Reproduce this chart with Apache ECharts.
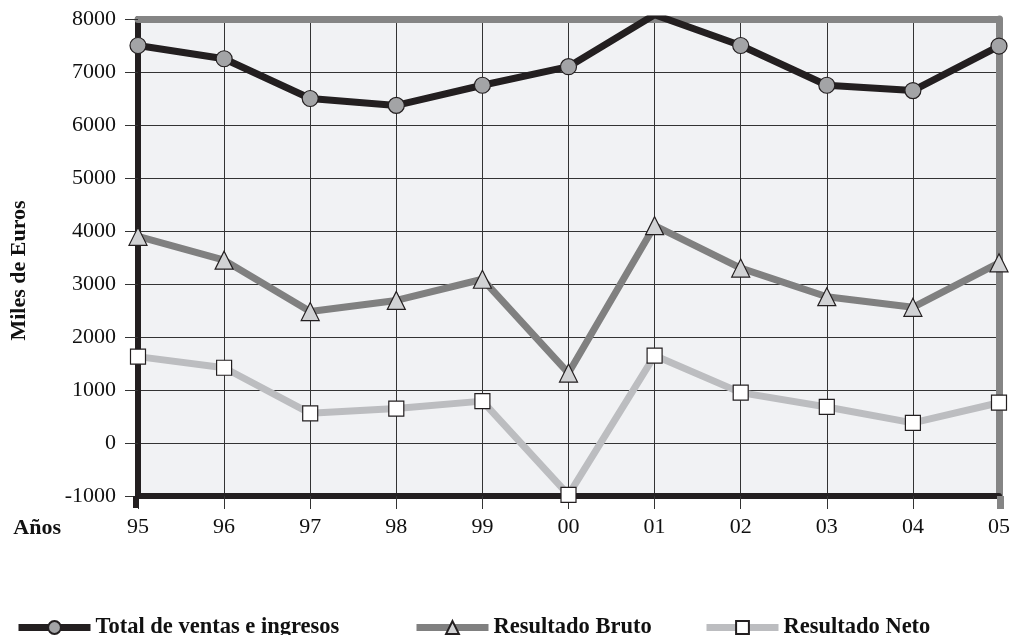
<!DOCTYPE html>
<html><head><meta charset="utf-8">
<script src="https://cdn.jsdelivr.net/npm/echarts@6/dist/echarts.min.js"></script>
<style>html,body{margin:0;padding:0;background:#fff}#c{width:1013px;height:635px}</style>
</head><body><div id="c"></div>
<script>
const years = ['95','96','97','98','99','00','01','02','03','04','05'];
const totalVentas = [7500, 7250, 6500, 6370, 6750, 7100, 8080, 7500, 6750, 6650, 7490];
const resultadoBruto = [3900, 3450, 2480, 2690, 3090, 1320, 4100, 3300, 2760, 2560, 3400];
const resultadoNeto = [1630, 1420, 560, 650, 790, -980, 1650, 950, 680, 380, 760];
const seriesNames = ['Total de ventas e ingresos', 'Resultado Bruto', 'Resultado Neto'];
const yMin = -1000, yMax = 8000, yStep = 1000;

const serif = '"Liberation Serif", "DejaVu Serif", serif';
const legendLefts = [10, 408, 698];
const legendTextStyle = { fontFamily: serif, fontWeight: 'bold', fontSize: 22.5, color: '#111' };
const gridBox = { left: 136, right: 13, top: 19, bottom: 139 };
const chart = echarts.init(document.getElementById('c'));
chart.setOption({
  animation: false,
  backgroundColor: '#fff',
  textStyle: { fontFamily: serif, color: '#111' },
  grid: [
    Object.assign({ show: true, backgroundColor: '#f1f2f4', borderWidth: 0 }, gridBox),
    Object.assign({ show: false }, gridBox),
    Object.assign({ show: false }, gridBox)
  ],
  legend: seriesNames.map((n, i) => ({
    left: legendLefts[i], top: 611, itemWidth: 72, itemHeight: 16, itemGap: 5,
    lineStyle: { width: 7 },
    textStyle: legendTextStyle,
    data: [n]
  })),
  xAxis: [{
    type: 'category', data: years, boundaryGap: false,
    name: 'Años', nameLocation: 'start', nameGap: 77,
    nameTextStyle: { fontFamily: serif, fontWeight: 'bold', fontSize: 22, color: '#111', verticalAlign: 'top', padding: [21, 0, 0, 0] },
    axisLine: { onZero: false, lineStyle: { color: '#231f20', width: 6 } },
    axisTick: { show: true, length: 13, alignWithLabel: true, lineStyle: { color: '#333', width: 1 } },
    axisLabel: { fontFamily: serif, fontSize: 22, color: '#111', margin: 20 },
    splitLine: { show: true, lineStyle: { color: '#333', width: 1 } }
  }, {
    type: 'category', data: years, boundaryGap: false, position: 'top',
    axisLine: { onZero: false, lineStyle: { color: '#858585', width: 7 } },
    axisTick: { show: false }, axisLabel: { show: false }, splitLine: { show: false }
  }, {
    gridIndex: 1, type: 'category', data: years, boundaryGap: false, position: 'bottom',
    axisLine: { show: false, onZero: false }, axisLabel: { show: false }, splitLine: { show: false },
    axisTick: { show: true, interval: i => i === 0, length: 12, lineStyle: { color: '#231f20', width: 6 } }
  }, {
    gridIndex: 2, type: 'category', data: years, boundaryGap: false, position: 'bottom',
    axisLine: { show: false, onZero: false }, axisLabel: { show: false }, splitLine: { show: false },
    axisTick: { show: true, interval: i => i === years.length - 1, length: 13, lineStyle: { color: '#858585', width: 7 } }
  }],
  yAxis: [{
    type: 'value', min: yMin, max: yMax, interval: yStep,
    name: 'Miles de Euros', nameLocation: 'middle', nameRotate: 90, nameGap: 108,
    nameTextStyle: { fontFamily: serif, fontWeight: 'bold', fontSize: 22, color: '#111', padding: [0, 26, 0, 0] },
    axisLine: { show: true, lineStyle: { color: '#231f20', width: 6 } },
    axisTick: { show: true, length: 13, lineStyle: { color: '#333', width: 1 } },
    axisLabel: { fontFamily: serif, fontSize: 22, color: '#111', margin: 22, formatter: v => String(v) },
    splitLine: { show: true, lineStyle: { color: '#333', width: 1 } }
  }, {
    type: 'value', min: yMin, max: yMax, interval: yStep, position: 'right',
    axisLine: { show: true, lineStyle: { color: '#858585', width: 7 } },
    axisTick: { show: false }, axisLabel: { show: false }, splitLine: { show: false }
  }, {
    gridIndex: 1, type: 'value', min: yMin, max: yMax, show: false
  }, {
    gridIndex: 2, type: 'value', min: yMin, max: yMax, show: false
  }],
  series: [{
    name: seriesNames[0], type: 'line', data: totalVentas,
    symbol: 'circle', symbolSize: 16,
    lineStyle: { color: '#231f20', width: 7 },
    itemStyle: { color: '#a3a4a6', borderColor: '#231f20', borderWidth: 1.2 },
    z: 5
  }, {
    name: seriesNames[1], type: 'line', data: resultadoBruto,
    symbol: 'triangle', symbolSize: 18,
    lineStyle: { color: '#808080', width: 7 },
    itemStyle: { color: '#d1d2d4', borderColor: '#231f20', borderWidth: 1.2 },
    z: 4
  }, {
    name: seriesNames[2], type: 'line', data: resultadoNeto,
    symbol: 'rect', symbolSize: 15,
    lineStyle: { color: '#bcbdc0', width: 7 },
    itemStyle: { color: '#ffffff', borderColor: '#231f20', borderWidth: 1.2 },
    z: 3
  }]
});
</script></body></html>
